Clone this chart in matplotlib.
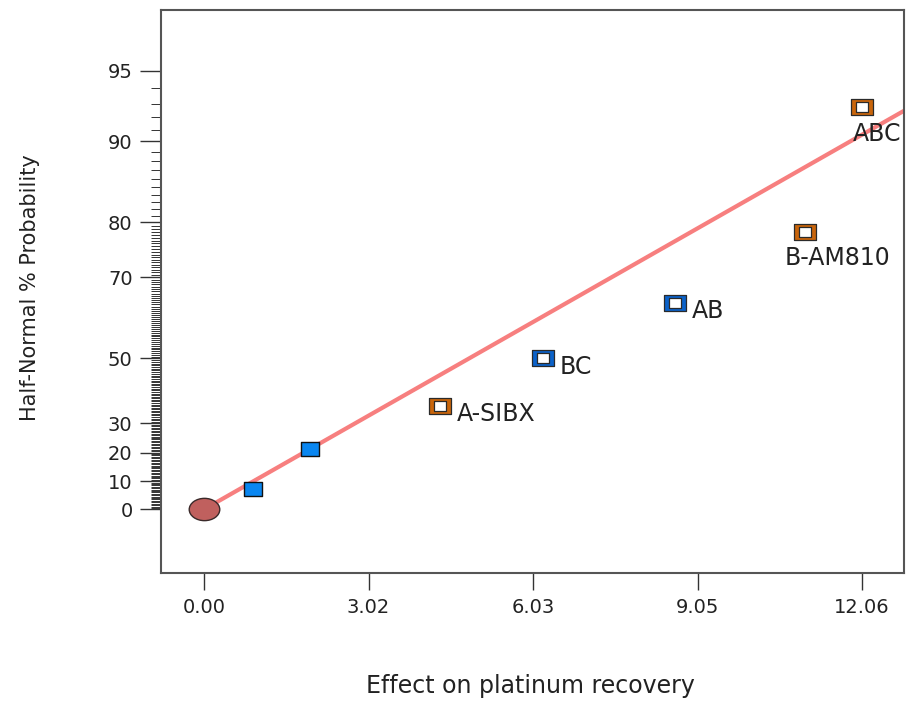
import numpy as np
import matplotlib
matplotlib.use("Agg")
import matplotlib.pyplot as plt
from matplotlib.path import Path
from matplotlib.ticker import FixedLocator, NullFormatter
from statistics import NormalDist

# valeurs
effects = [0.0, 0.90, 1.94, 4.33, 6.22, 8.63, 11.02, 12.06]
probs = [0.0, 7.1, 21.4, 35.7, 50.0, 64.4, 78.5, 92.8]
kinds = ["error", "small", "small", "orange", "blue", "blue", "orange", "orange"]
names = ["", "", "", "A-SIBX", "BC", "AB", "B-AM810", "ABC"]

line_effect = [0.0, 12.83]
line_prob = [0.0, 92.5]

y_major = [0, 10, 20, 30, 50, 70, 80, 90, 95]
y_minor = [v / 2 for v in range(1, 160)] + list(range(81, 95))
x_ticks = [0.0, 3.015, 6.03, 9.045, 12.06]
x_ticklabels = ["0.00", "3.02", "6.03", "9.05", "12.06"]

nd = NormalDist()


def _fwd(p):
    p = np.clip(np.asarray(p, dtype=float), -99.9999, 99.9999)
    return np.vectorize(lambda v: nd.inv_cdf(0.5 + v / 200.0))(p)


def _inv(z):
    z = np.asarray(z, dtype=float)
    return np.vectorize(lambda v: (2 * nd.cdf(v) - 1) * 100.0)(z)


plt.rcParams.update({"font.family": "DejaVu Sans"})

fig = plt.figure(figsize=(9.07, 7.06), dpi=100)
ax = fig.add_axes([161 / 907, 1 - 573 / 706, (904 - 161) / 907, (573 - 10) / 706])
ax.set_yscale("function", functions=(_fwd, _inv))

# marqueurs rectangulaires un peu plus larges que hauts
rect = Path([(-1, -0.78), (1, -0.78), (1, 0.78), (-1, 0.78), (-1, -0.78)],
            [Path.MOVETO, Path.LINETO, Path.LINETO, Path.LINETO, Path.CLOSEPOLY])
circ = Path.unit_circle()
ell = Path(circ.vertices * np.array([1.0, 0.73]), circ.codes)

ax.plot(line_effect, line_prob, color="#f77f7f", lw=3.0, zorder=2,
        solid_capstyle="butt")

col = {"orange": "#c9650b", "blue": "#0b62c9"}
for x, p, k, n in zip(effects, probs, kinds, names):
    if k == "error":
        ax.plot(x, p, marker=ell, ms=22, mfc="#c0605e", mec="#3a2a2a", mew=1.0,
                ls="none", zorder=4)
    elif k == "small":
        ax.plot(x, p, marker=rect, ms=12.5, mfc="#0a86f0", mec="#111111",
                mew=1.0, ls="none", zorder=4)
    else:
        ax.plot(x, p, marker=rect, ms=15.5, mfc=col[k], mec="#2a2a2a",
                mew=0.9, ls="none", zorder=4)
        ax.plot(x, p, marker=rect, ms=8.5, mfc="white", mec="#2a2a2a",
                mew=0.9, ls="none", zorder=5)

# étiquettes des effets
offsets = {"A-SIBX": (12, -6, "left"), "BC": (12, -6, "left"),
           "AB": (12, -6, "left"), "B-AM810": (23, -19, "center"),
           "ABC": (11, -20, "center")}
for x, p, n in zip(effects, probs, names):
    if n:
        dx, dy, ha = offsets[n]
        ax.annotate(n, (x, p), xytext=(dx, dy), textcoords="offset points",
                    ha=ha, va="center", fontsize=17, color="#222222")

ax.set_xlim(-0.79, 12.83)
ax.set_ylim(-22.4, 97.43)

ax.yaxis.set_major_locator(FixedLocator(y_major))
ax.yaxis.set_minor_locator(FixedLocator([v for v in y_minor if v not in y_major]))
ax.yaxis.set_minor_formatter(NullFormatter())
ax.set_yticklabels([str(v) for v in y_major])
ax.set_xticks(x_ticks)
ax.set_xticklabels(x_ticklabels)

ax.tick_params(axis="y", which="major", length=15, width=1.0, color="#333333",
               labelsize=14, pad=5.5, labelcolor="#222222")
ax.tick_params(axis="y", which="minor", length=7.2, width=0.7, color="#333333")
ax.tick_params(axis="x", which="major", length=12, width=1.0, color="#333333",
               labelsize=14, pad=6, labelcolor="#222222")

for s in ax.spines.values():
    s.set_color("#555555")
    s.set_linewidth(1.5)

fig.text(30 / 907, 1 - 288 / 706, "Half-Normal % Probability", rotation=90,
         ha="center", va="center", fontsize=15, color="#222222")
fig.text(530 / 907, 1 - 686 / 706, "Effect on platinum recovery",
         ha="center", va="center", fontsize=17, color="#222222")

fig.savefig("out.png", dpi=100)
